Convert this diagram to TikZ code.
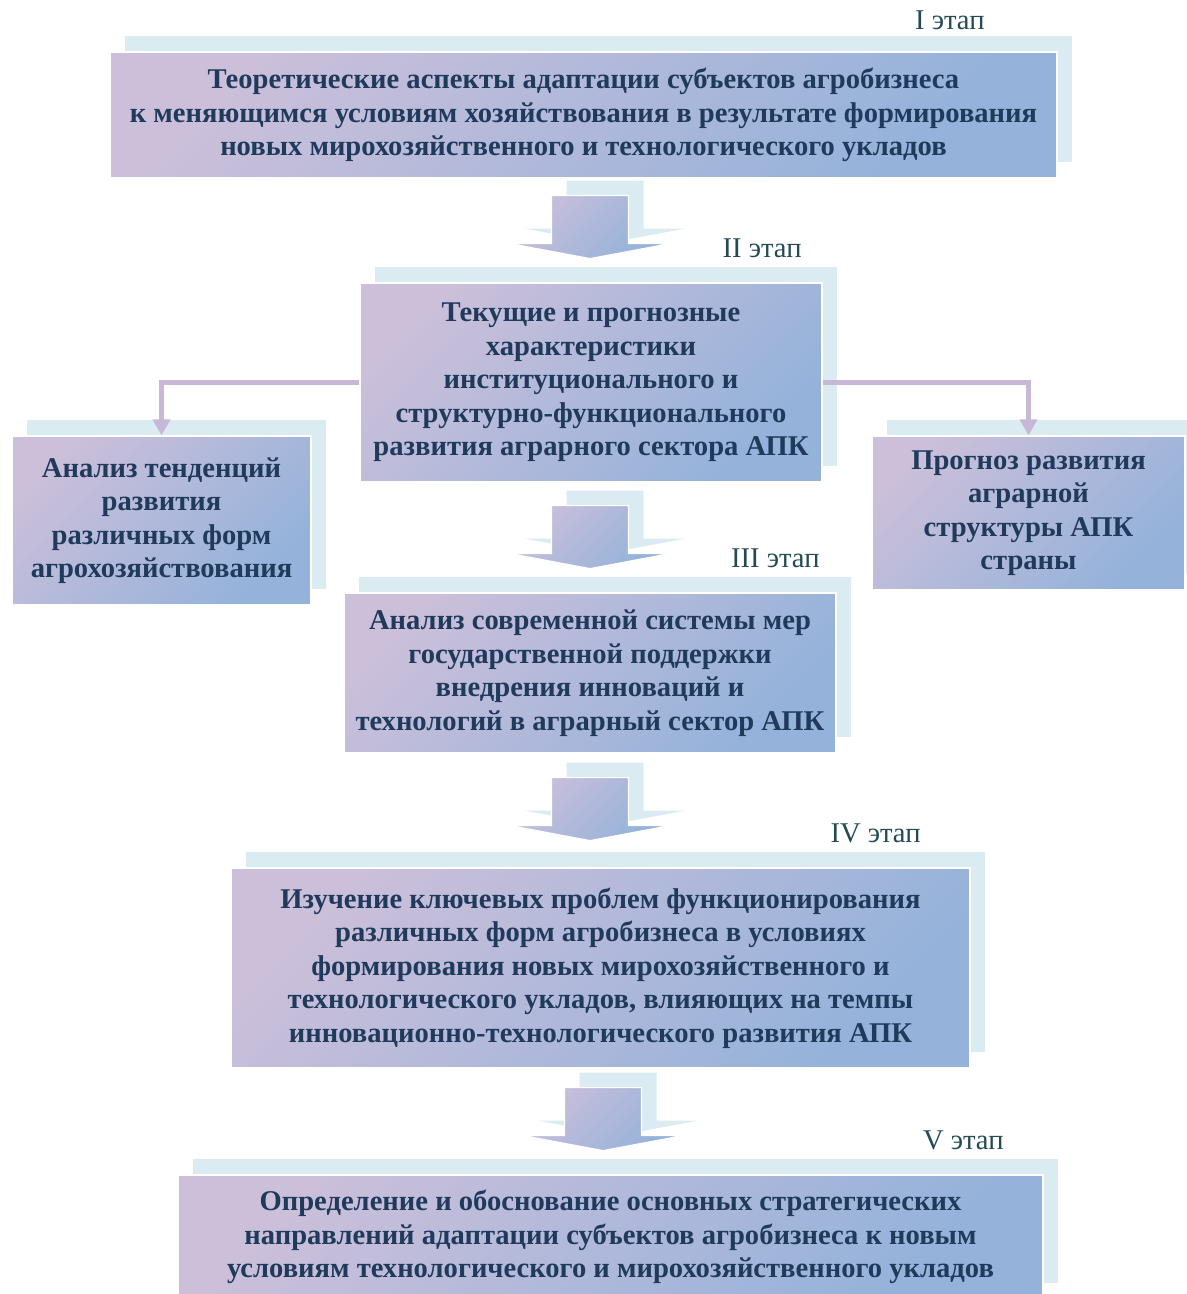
\documentclass[tikz,border=0pt]{standalone}
\usepackage{fontspec}
\setmainfont{Liberation Serif}
\usetikzlibrary{arrows.meta,shadows,calc}

\definecolor{boxtop}{RGB}{203,191,218}
\definecolor{boxbot}{RGB}{148,178,218}
\definecolor{shadowc}{RGB}{218,236,241}
\definecolor{linec}{RGB}{199,184,215}
\definecolor{textc}{RGB}{32,58,92}
\definecolor{etapc}{RGB}{36,74,85}

\begin{document}
\begin{tikzpicture}[x=0.5pt,y=-0.5pt,
  stage/.style={top color=boxtop, bottom color=boxbot, shading angle=45,
    draw=white, line width=0.6pt, inner sep=0pt, align=center, text=textc,
    general shadow={fill=shadowc, draw=none, shadow xshift=7.5pt, shadow yshift=8pt},
    font=\fontsize{14.3}{16.75}\selectfont\bfseries},
  etap/.style={anchor=east, inner sep=0pt, text=etapc, font=\fontsize{14.3}{16}\selectfont},
  conn/.style={draw=linec, line width=2.2pt, -{Triangle[width=8.5pt,length=8pt]}},
  arrowshade/.style={top color=boxtop, bottom color=boxbot, shading angle=45, draw=white, line width=0.6pt}]
\useasboundingbox (0,0) rectangle (1187,1294);

% stages
\node[stage, minimum width=473.5pt, minimum height=63pt] (b1) at (583.5,115)
  {Теоретические аспекты адаптации субъектов агробизнеса\\к меняющимся условиям хозяйствования в результате формирования\\новых мирохозяйственного и технологического укладов};
\node[stage, minimum width=231pt, minimum height=99.5pt] (b2) at (591,382.5)
  {Текущие и прогнозные\\характеристики\\институционального и\\структурно-функционального\\развития аграрного сектора АПК};
\node[stage, minimum width=149.5pt, minimum height=84.5pt] (bl) at (161.5,520.5)
  {Анализ тенденций\\развития\\различных форм\\агрохозяйствования};
\node[stage, minimum width=156.5pt, minimum height=77pt] (br) at (1028.5,513)
  {Прогноз развития\\аграрной\\структуры АПК\\страны};
\node[stage, minimum width=246pt, minimum height=80pt] (b3) at (590,673)
  {Анализ современной системы мер\\государственной поддержки\\внедрения инноваций и\\технологий в аграрный сектор АПК};
\node[stage, minimum width=369.5pt, minimum height=100pt] (b4) at (600.5,968)
  {Изучение ключевых проблем функционирования\\различных форм агробизнеса в условиях\\формирования новых мирохозяйственного и\\технологического укладов, влияющих на темпы\\инновационно-технологического развития АПК};
\node[stage, minimum width=432.5pt, minimum height=62pt] (b5) at (610.5,1237)
  {Определение и обоснование основных стратегических\\направлений адаптации субъектов агробизнеса к новым\\условиям технологического и мирохозяйственного укладов};

% labels
\node[etap] (l1) at (985,20) {I этап};
\node[etap] (l2) at (802,248) {II этап};
\node[etap] (l3) at (820,558) {III этап};
\node[etap] (l4) at (921,833) {IV этап};
\node[etap] (l5) at (1004,1140) {V этап};

% side connectors
\draw[conn] (b2.west) -| (bl.north);
\draw[conn] (b2.east) -| (br.north);

% block arrows
\fill[shadowc, shift={($(b1.south)+(21.5,2)$)}] (-38.5,0) -- (38.5,0) -- (38.5,48) -- (80,48) -- (0,63) -- (-80,48) -- (-38.5,48) -- cycle;
\shade[arrowshade, shift={($(b1.south)+(6.5,17)$)}] (-38.5,0) -- (38.5,0) -- (38.5,48) -- (80,48) -- (0,63) -- (-80,48) -- (-38.5,48) -- cycle;

\fill[shadowc, shift={($(b2.south)+(14,8)$)}] (-38.5,0) -- (38.5,0) -- (38.5,48) -- (80,48) -- (0,63) -- (-80,48) -- (-38.5,48) -- cycle;
\shade[arrowshade, shift={($(b2.south)+(-1,23)$)}] (-38.5,0) -- (38.5,0) -- (38.5,48) -- (80,48) -- (0,63) -- (-80,48) -- (-38.5,48) -- cycle;

\fill[shadowc, shift={($(b3.south)+(15,9)$)}] (-38.5,0) -- (38.5,0) -- (38.5,48) -- (80,48) -- (0,63) -- (-80,48) -- (-38.5,48) -- cycle;
\shade[arrowshade, shift={($(b3.south)+(0,24)$)}] (-38.5,0) -- (38.5,0) -- (38.5,48) -- (80,48) -- (0,63) -- (-80,48) -- (-38.5,48) -- cycle;

\fill[shadowc, shift={($(b4.south)+(17.5,4)$)}] (-38.5,0) -- (38.5,0) -- (38.5,48) -- (80,48) -- (0,63) -- (-80,48) -- (-38.5,48) -- cycle;
\shade[arrowshade, shift={($(b4.south)+(2.5,19)$)}] (-38.5,0) -- (38.5,0) -- (38.5,48) -- (80,48) -- (0,63) -- (-80,48) -- (-38.5,48) -- cycle;

\end{tikzpicture}
\end{document}
